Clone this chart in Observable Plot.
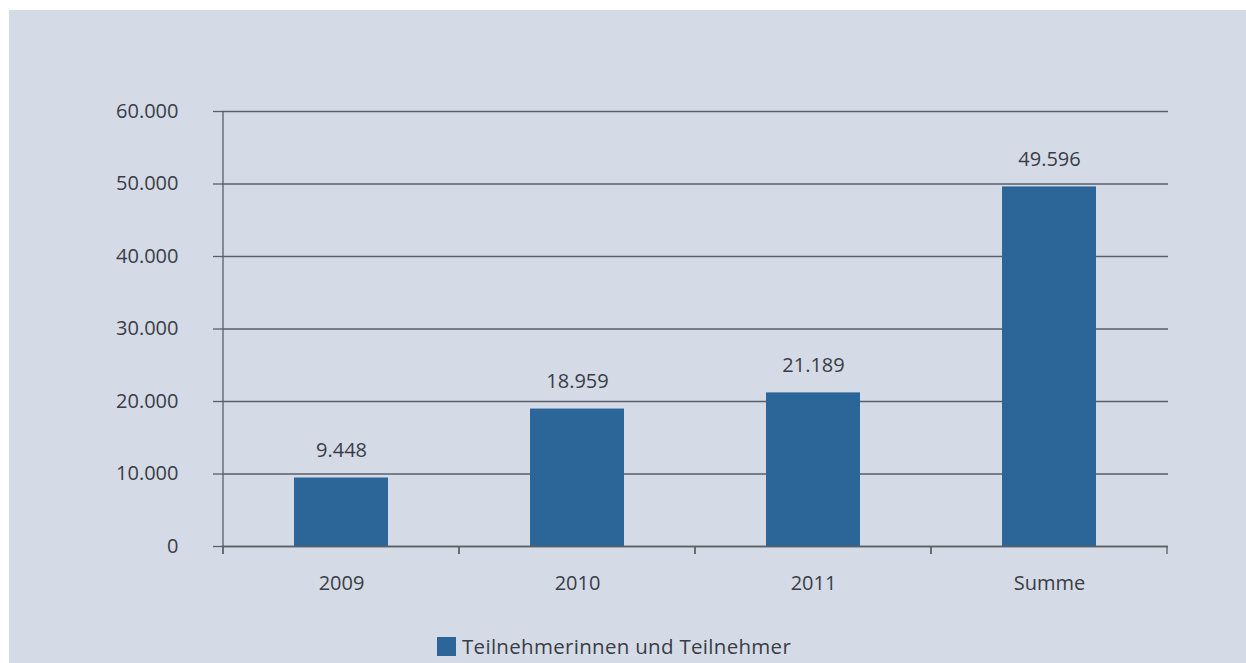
<!DOCTYPE html>
<html><head><meta charset="utf-8">
<script src="https://cdn.jsdelivr.net/npm/d3@7"></script>
<script src="https://cdn.jsdelivr.net/npm/@observablehq/plot@0.6"></script>
<style>
html,body{margin:0;padding:0;background:#fff;}
#wrap{position:absolute;left:9px;top:10px;width:1237px;height:653px;background:#d4dbe7;font-family:"Open Sans",sans-serif;}
#chart{position:absolute;left:0;top:0;}
#legend{position:absolute;left:428px;top:622px;display:flex;align-items:center;font-size:20.5px;color:#3a3d45;letter-spacing:0.3px;}
#legend .sw{width:19px;height:19px;background:#2c6597;margin-right:6px;}
</style></head>
<body><div id="wrap"><div id="chart"></div><div id="legend"><div class="sw"></div><span>Teilnehmerinnen und Teilnehmer</span></div></div>
<script>
const categories = ["2009", "2010", "2011", "Summe"];
const values = [9448, 18959, 21189, 49596];
const yTicks = [0, 10000, 20000, 30000, 40000, 50000, 60000];
const seriesName = "Teilnehmerinnen und Teilnehmer";

const data = categories.map((c, i) => ({cat: c, value: values[i]}));
const fmt = v => v.toLocaleString("de-DE");
const textColor = "#3a3d45";
const lineColor = "#5a5f68";

const plot = Plot.plot({
  width: 1237,
  height: 590,
  marginLeft: 213,
  marginRight: 78,
  marginTop: 101,
  marginBottom: 54,
  style: {background: "transparent", fontFamily: "Open Sans, sans-serif", fontSize: "20px", color: textColor},
  x: {domain: categories, paddingInner: 0.6, paddingOuter: 0.3, label: null},
  y: {domain: [0, 60000], label: null},
  marks: [
    Plot.gridY(yTicks, {stroke: lineColor, strokeOpacity: 1, strokeWidth: 1.3}),
    Plot.axisY({ticks: yTicks, tickFormat: fmt, tickSize: 9, tickPadding: 35, stroke: lineColor, strokeWidth: 1.3, fill: textColor, fontSize: 20, label: null}),
    Plot.axisX({tickSize: 0, tickPadding: 29, fill: textColor, fontSize: 20, label: null}),
    Plot.barY(data, {x: "cat", y: "value", fill: "#2c6597"}),
    Plot.text(data, {x: "cat", y: "value", text: d => fmt(d.value), dy: -27, fill: textColor, fontSize: 20}),
    Plot.ruleY([0], {stroke: lineColor, strokeWidth: 1.3})
  ]
});
document.getElementById("chart").appendChild(plot);

// y axis line and category boundary ticks, positioned from the plot's own scales
const svg = d3.select(plot);
const xs = plot.scale("x"), ys = plot.scale("y");
const bw = xs.bandwidth, step = xs.step;
const g = svg.append("g").attr("stroke", lineColor).attr("stroke-width", 1.3);
const axisX = xs.apply(categories[0]) + bw / 2 - step / 2;
g.append("line").attr("x1", axisX).attr("x2", axisX).attr("y1", ys.apply(60000)).attr("y2", ys.apply(0) + 8);
categories.forEach((c, i) => {
  const center = xs.apply(c) + bw / 2;
  [center - step / 2, center + step / 2].forEach(bx =>
    g.append("line").attr("x1", bx).attr("x2", bx).attr("y1", ys.apply(0)).attr("y2", ys.apply(0) + 8));
});
</script></body></html>
